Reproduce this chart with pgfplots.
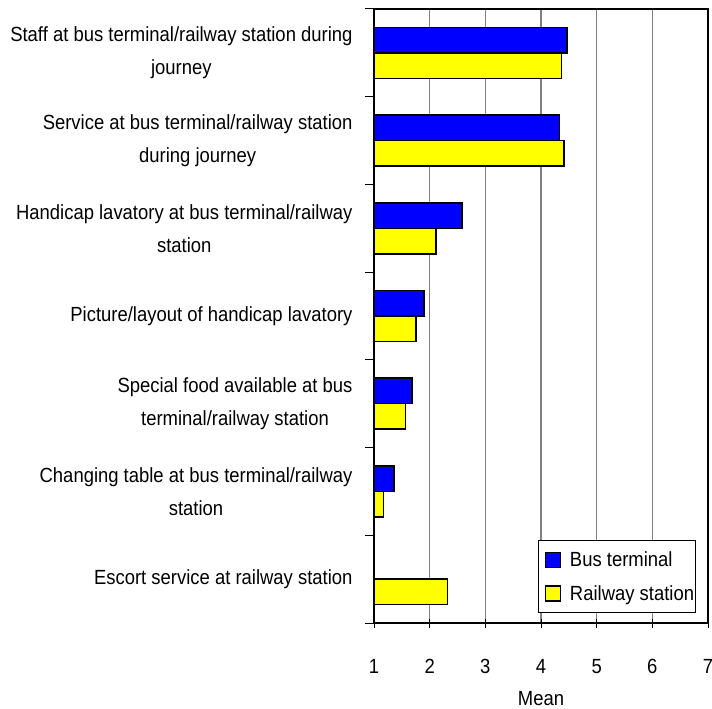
\documentclass[border=0pt]{standalone}
\usepackage{fontspec}
\setmainfont[FakeStretch=0.9]{Liberation Sans}
\usepackage{pgfplots}
\pgfplotsset{compat=1.18}
\definecolor{busblue}{RGB}{0,0,255}
\definecolor{railyellow}{RGB}{255,255,0}
\begin{document}
\begin{tikzpicture}
\begin{axis}[
  scale only axis,
  width=334pt, height=614pt,
  xmin=1, xmax=7,
  ymin=-0.5, ymax=6.5,
  xtick={1,...,7},
  xtick pos=bottom,
  ytick pos=left,
  ytick={0,...,6},
  yticklabels={
    Escort service at railway station,
    Changing table at bus terminal/railway\\station,
    Special food available at bus\\terminal/railway station,
    Picture/layout of handicap lavatory,
    Handicap lavatory at bus terminal/railway\\station,
    Service at bus terminal/railway station\\during journey,
    Staff at bus terminal/railway station during\\journey},
  minor ytick={-0.5,0.5,...,6.5},
  major y tick style={draw=none},
  minor tick length=9pt,
  minor y tick style={black, line width=1pt},
  major tick length=9pt,
  tick align=center,
  xtick style={draw=black, line width=1pt},
  xmajorgrids,
  major grid style={gray, line width=1.2pt},
  axis line style={line width=1.5pt},
  /pgf/number format/assume math mode=true,
  font=\fontsize{20.5}{33}\selectfont,
  yticklabel style={align=center, xshift=-9pt},
  xticklabel style={anchor=base, yshift=-46pt},
  xlabel={Mean},
  xlabel style={at={(axis description cs:0.5,0)}, anchor=base, yshift=-82pt},
  xbar,
  bar width=25.5pt,
  legend cell align=left,
  legend style={at={(0.964,0.0163)}, anchor=south east,
    draw=black, line width=0.8pt, inner xsep=1pt, inner ysep=9pt,
    row sep=13pt, font=\fontsize{20.5}{24}\selectfont,
    nodes={inner xsep=0.5pt}},
  legend image code/.code={
    \path (0pt,0pt) (29pt,0pt);
    \draw[#1, line width=1.5pt] (6pt,-7.5pt) rectangle (21pt,7.5pt);},
]
\addplot[fill=busblue, draw=black, line width=1.5pt, bar shift=12.75pt]
  coordinates {(1.36,1) (1.68,2) (1.90,3) (2.58,4) (4.33,5) (4.47,6)};
\addplot[fill=railyellow, draw=black, line width=1.5pt, bar shift=-12.75pt]
  coordinates {(2.32,0) (1.17,1) (1.57,2) (1.75,3) (2.11,4) (4.41,5) (4.37,6)};
\legend{Bus terminal, Railway station}
\end{axis}
\pgfresetboundingbox
\path ([xshift=-374pt,yshift=-85pt]current axis.south west)
  rectangle ([xshift=4pt,yshift=9pt]current axis.north east);
\end{tikzpicture}
\end{document}
